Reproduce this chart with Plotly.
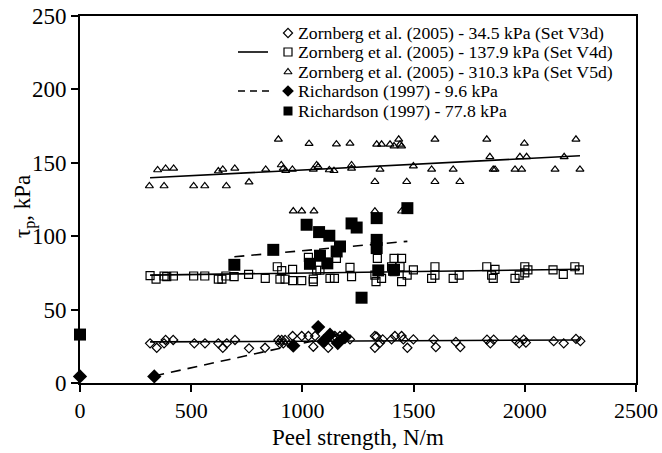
import plotly.graph_objects as go

# ---------------- data ----------------
v3d_x = [315, 345, 378, 385, 419, 514, 562, 622, 642, 660, 697, 760, 832, 892, 899, 907, 914, 922,
         956, 997, 1027, 1049, 1057, 1116, 1139, 1146, 1169, 1191, 1214, 1326, 1334, 1326, 1349,
         1361, 1401, 1416, 1446, 1454, 1472, 1499, 1590, 1600, 1690, 1710, 1830, 1845, 1860,
         1960, 1975, 1995, 2005, 2130, 2175, 2230, 2250]
v3d_y = [27, 24, 27, 29.3, 29.3, 27, 27, 27, 24, 27, 29.3, 23.6, 24, 29.3, 27, 29.3, 27, 29.3,
         32, 32, 32, 24.7, 32, 24, 30.4, 32, 32, 30.4, 29.7, 32, 31.5, 24, 27.4,
         29.7, 29.7, 32, 32, 29.7, 24, 29.7, 29.5, 24.5, 28, 24.5, 29.5, 27, 29.5,
         29, 27, 29.5, 27.5, 28.5, 27, 30, 28.5]

v4d_x = [315, 342, 378, 390, 420, 511, 561, 622, 638, 656, 693, 758, 833, 887, 899, 922, 907, 956,
         956, 997, 1027, 1049, 1049, 1064, 1079, 1124, 1144, 1153, 1214, 1221, 1337, 1412, 1446,
         1326, 1331, 1356, 1401, 1439, 1412, 1446, 1471, 1499, 1581, 1596, 1596, 1678, 1705,
         1829, 1851, 1858, 1866, 1956, 1975, 2000, 2014, 2000, 2127, 2173, 2225, 2245]
v4d_y = [73.1, 70.8, 72.9, 72.4, 72.9, 72.9, 72.9, 70.8, 70.8, 72.9, 72.4, 74, 71.3, 79.2, 70.8, 70.8, 76.5, 77.4,
         69.7, 69.7, 85.6, 70.8, 69, 76.8, 76.8, 71.3, 71.3, 84.9, 78.8, 72.4, 84.9, 84.9, 84.9,
         73.5, 69, 71.3, 79.2, 79.2, 75.8, 69, 73.5, 77, 71.3, 73.5, 79.2, 71.3, 73.5,
         79.2, 73.5, 71.3, 77.4, 71.3, 73.5, 79.2, 77, 75, 77, 74, 79.2, 77]

v5d_x = [312, 378, 349, 385, 421, 511, 561, 622, 642, 658, 696, 760, 835, 892, 905, 914, 925, 955,
         959, 997, 1052, 1030, 1049, 1064, 1071, 1121, 1142, 1153, 1214, 1221, 1221, 1326, 1334,
         1356, 1349, 1394, 1412, 1433, 1439, 1446, 1469, 1499, 1581, 1596, 1596, 1678, 1708,
         1829, 1843, 1858, 1866, 1956, 1978, 2008, 1986, 1998, 2136, 2177, 2230, 2248, 1326, 1446]
v5d_y = [134.2, 134.2, 145.1, 146.2, 146.2, 134.2, 134.2, 144.4, 145.5, 134.2, 146.2, 136.9, 145.5, 166, 148.5, 146.2, 144.6, 145.5,
         117.1, 117.1, 117.1, 163, 145.5, 148.5, 147.3, 145.1, 144.6, 162.7, 163.2, 148.5, 146.2, 137.1, 162.6,
         162.6, 145.5, 162.6, 161.4, 166, 162.6, 161.4, 137.1, 147.8, 145.5, 166, 137.1, 145.5, 137.1,
         166, 154.1, 145.5, 145.5, 145.5, 154.1, 154.1, 145.5, 163.2, 145.5, 154.1, 166, 145.5, 117, 117]

r96_x = [0, 334, 959, 1071, 1094, 1124, 1159, 1191]
r96_y = [4.5, 4.5, 25.4, 38.1, 28.3, 32.9, 27.2, 31.3]

r778_x = [0, 694, 869, 1019, 1034, 1075, 1079, 1112, 1121, 1154, 1169, 1221, 1244, 1266,
          1334, 1334, 1334, 1341, 1412, 1472]
r778_y = [33, 80.5, 90.7, 107.8, 81.2, 102.8, 86.7, 81.5, 100.3, 89.6, 93, 108.7, 105.9, 58.1,
          112.3, 97.5, 91.9, 76.7, 77.1, 119.1]

# trend lines (end points)
tr_v3d_x = [315, 2248]; tr_v3d_y = [28.0, 29.3]
tr_v4d_x = [315, 2248]; tr_v4d_y = [73.5, 77.5]
tr_v5d_x = [315, 2248]; tr_v5d_y = [139.8, 154.8]
tr_r96_x = [334, 1191]; tr_r96_y = [4.8, 33.4]
tr_r778_x = [694, 1472]; tr_r778_y = [86.0, 96.5]

x_ticks = [0, 500, 1000, 1500, 2000, 2500]
y_ticks = [0, 50, 100, 150, 200, 250]

legend_labels = [
    "Zornberg et al. (2005) - 34.5 kPa (Set V3d)",
    "Zornberg et al. (2005) - 137.9 kPa (Set V4d)",
    "Zornberg et al. (2005) - 310.3 kPa (Set V5d)",
    "Richardson (1997) - 9.6 kPa",
    "Richardson (1997) - 77.8 kPa",
]
x_title = "Peel strength, N/m"
y_title = "τ<sub>p</sub>, kPa"

# ---------------- styles ----------------
FONT = "serif"
BLACK = "black"
sym = ["diamond-open", "square-open", "triangle-up-open", "diamond", "square"]
msize = [7, 8, 7, 11, 12]

fig = go.Figure()

def line(x, y, dash):
    fig.add_trace(go.Scatter(x=x, y=y, mode="lines", showlegend=False, hoverinfo="skip",
                             line=dict(color=BLACK, width=1.6, dash=dash)))

line(tr_v3d_x, tr_v3d_y, "solid")
line(tr_v4d_x, tr_v4d_y, "solid")
line(tr_v5d_x, tr_v5d_y, "solid")
line(tr_r96_x, tr_r96_y, "10px,7px")
line(tr_r778_x, tr_r778_y, "10px,7px")

series = [(v3d_x, v3d_y), (v4d_x, v4d_y), (v5d_x, v5d_y), (r96_x, r96_y), (r778_x, r778_y)]
for i, (xs, ys) in enumerate(series):
    fig.add_trace(go.Scatter(
        x=xs, y=ys, mode="markers", name=legend_labels[i], showlegend=False, cliponaxis=False,
        marker=dict(symbol=sym[i], size=msize[i], color=BLACK,
                    line=dict(color=BLACK, width=1.2 if i < 3 else 0))))

# ---------------- custom legend on a pixel-coordinate overlay axis ----------------
PLOT_L, PLOT_R, PLOT_T, PLOT_B = 80, 636, 16, 383
W, H = 662, 453
def px(xp):
    return (xp - PLOT_L) / (PLOT_R - PLOT_L)
def py(yp):
    return (PLOT_B - yp) / (PLOT_B - PLOT_T)

leg_rows = [33, 52, 72, 91, 111]
leg_mx, leg_tx = 288, 296
for i, yy in enumerate(leg_rows):
    fig.add_trace(go.Scatter(
        x=[leg_mx], y=[yy], xaxis="x2", yaxis="y2", mode="markers", showlegend=False,
        hoverinfo="skip", cliponaxis=False,
        marker=dict(symbol=sym[i], size=msize[i] if i < 3 else 9, color=BLACK,
                    line=dict(color=BLACK, width=1.2 if i < 3 else 0))))
    fig.add_annotation(x=px(leg_tx), y=py(yy), xref="paper", yref="paper", text=legend_labels[i],
                       showarrow=False, xanchor="left", yanchor="middle",
                       font=dict(family=FONT, size=17.7, color=BLACK))
fig.add_trace(go.Scatter(x=[238, 268], y=[leg_rows[1]] * 2, xaxis="x2", yaxis="y2", mode="lines",
                         showlegend=False, hoverinfo="skip", line=dict(color=BLACK, width=1.6)))
fig.add_trace(go.Scatter(x=[238, 270], y=[leg_rows[3]] * 2, xaxis="x2", yaxis="y2", mode="lines",
                         showlegend=False, hoverinfo="skip",
                         line=dict(color=BLACK, width=1.6, dash="7px,5px")))

# axis titles
fig.add_annotation(x=px(358), y=py(438), xref="paper", yref="paper", text=x_title, showarrow=False,
                   xanchor="center", yanchor="middle", font=dict(family=FONT, size=23, color=BLACK))
fig.add_annotation(x=px(24), y=py(207), xref="paper", yref="paper", text=y_title, showarrow=False,
                   textangle=-90, xanchor="center", yanchor="middle",
                   font=dict(family=FONT, size=23, color=BLACK))

axis_common = dict(ticks="outside", ticklen=7, tickwidth=1.5, tickcolor=BLACK, showline=True,
                   linecolor=BLACK, linewidth=1.6, mirror=True, showgrid=False, zeroline=False,
                   automargin=False)

fig.update_layout(
    width=W, height=H,
    margin=dict(l=PLOT_L, r=W - PLOT_R, t=PLOT_T, b=H - PLOT_B),
    paper_bgcolor="white", plot_bgcolor="white",
    font=dict(family=FONT, size=21, color=BLACK),
    showlegend=False,
    xaxis=dict(range=[0, 2500], tickvals=x_ticks, tickfont=dict(family=FONT, size=22, color=BLACK),
               **axis_common),
    yaxis=dict(range=[0, 250], tickvals=y_ticks, tickfont=dict(family=FONT, size=23, color=BLACK),
               **axis_common),
    xaxis2=dict(overlaying="x", range=[PLOT_L, PLOT_R], visible=False, anchor="y2", fixedrange=True),
    yaxis2=dict(overlaying="y", range=[PLOT_B, PLOT_T], visible=False, anchor="x2", fixedrange=True),
)

fig.write_html("out.html", config={"displayModeBar": False},
               post_script="document.body.style.margin='0';document.body.style.overflow='hidden';")
